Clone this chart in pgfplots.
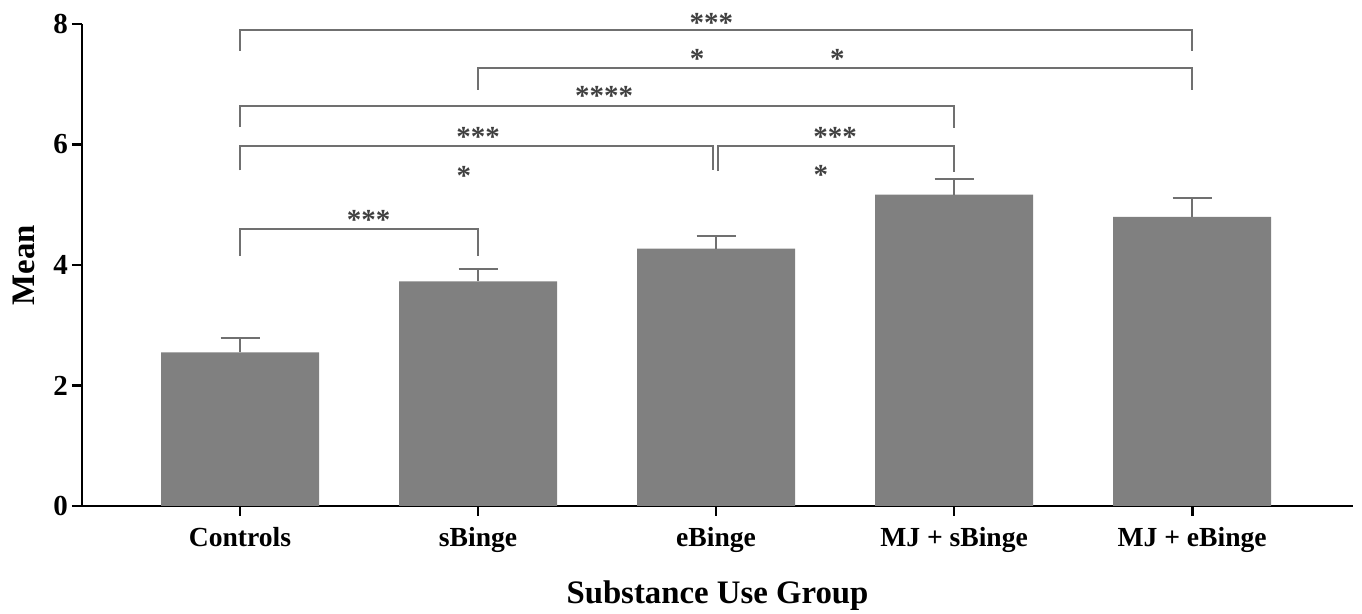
\documentclass[border=0pt]{standalone}
\usepackage{fontspec}
\setmainfont{Liberation Serif}
\usepackage{pgfplots}
\pgfplotsset{compat=1.18}
\definecolor{barg}{RGB}{128,128,128}
\definecolor{brk}{RGB}{112,112,112}
\definecolor{stc}{RGB}{64,64,64}
\tikzset{stars/.style={text=stc, font=\bfseries\fontsize{14.5}{16}\selectfont, inner sep=0pt}}
\begin{document}
\begin{tikzpicture}
\begin{axis}[
 scale only axis, width=635.5pt, height=241pt,
 xmin=-0.664, xmax=4.676, ymin=0, ymax=8,
 axis x line=bottom, axis y line=left,
 axis line style={-, line width=1.4pt, black},
 xtick={0,1,2,3,4}, xticklabels={Controls,sBinge,eBinge,MJ + sBinge,MJ + eBinge},
 ytick={0,2,4,6,8},
 tick align=outside, major tick length=5pt,
 tick style={line width=1.4pt, black},
 ticklabel style={font=\bfseries\fontsize{13.8}{16}\selectfont},
 yticklabel style={font=\bfseries\fontsize{14.5}{16}\selectfont, xshift=1.5pt},
 xticklabel style={yshift=-2pt},
 /pgf/number format/assume math mode=true,
 xlabel={Substance Use Group}, ylabel={Mean},
 label style={font=\bfseries\fontsize{16.4}{19}\selectfont},
 xlabel style={at={(axis description cs:0.5,-0.1867)}, anchor=center},
 ylabel style={at={(axis description cs:-0.0456,0.5)}, anchor=center},
 clip=false,
]
\addplot[ybar, bar width=0.664, fill=barg, draw=none,
  error bars/.cd, y dir=plus, y explicit,
  error bar style={line width=1pt, color=brk},
  error mark options={rotate=90, mark size=9.75pt, line width=1pt, color=brk}]
  coordinates {(0,2.55) +- (0,0.245) (1,3.73) +- (0,0.205) (2,4.27) +- (0,0.215) (3,5.17) +- (0,0.26) (4,4.80) +- (0,0.31)};
% significance brackets
\addplot[brk, line width=1pt, no marks] coordinates {(0,7.56) (0,7.90) (4,7.90) (4,7.56)};
\addplot[brk, line width=1pt, no marks] coordinates {(1,6.91) (1,7.27) (4,7.27) (4,6.91)};
\addplot[brk, line width=1pt, no marks] coordinates {(0,6.29) (0,6.64) (3,6.64) (3,6.27)};
\addplot[brk, line width=1pt, no marks] coordinates {(0,5.57) (0,5.98) (1.985,5.98) (1.985,5.57)};
\addplot[brk, line width=1pt, no marks] coordinates {(2.01,5.56) (2.01,5.98) (3,5.98) (3,5.55)};
\addplot[brk, line width=1pt, no marks] coordinates {(0,4.15) (0,4.60) (1,4.60) (1,4.15)};
\node[stars] at (axis cs:1.98,8.02) {***};
\node[stars] at (axis cs:1.92,7.42) {*};
\node[stars] at (axis cs:2.51,7.42) {*};
\node[stars] at (axis cs:1.53,6.81) {****};
\node[stars] at (axis cs:1.00,6.12) {***};
\node[stars] at (axis cs:2.50,6.12) {***};
\node[stars] at (axis cs:0.94,5.48) {*};
\node[stars] at (axis cs:2.44,5.50) {*};
\node[stars] at (axis cs:0.54,4.74) {***};
\end{axis}
\pgfresetboundingbox
\path (-41pt,-54pt) rectangle (640pt,253pt);
\end{tikzpicture}
\end{document}
